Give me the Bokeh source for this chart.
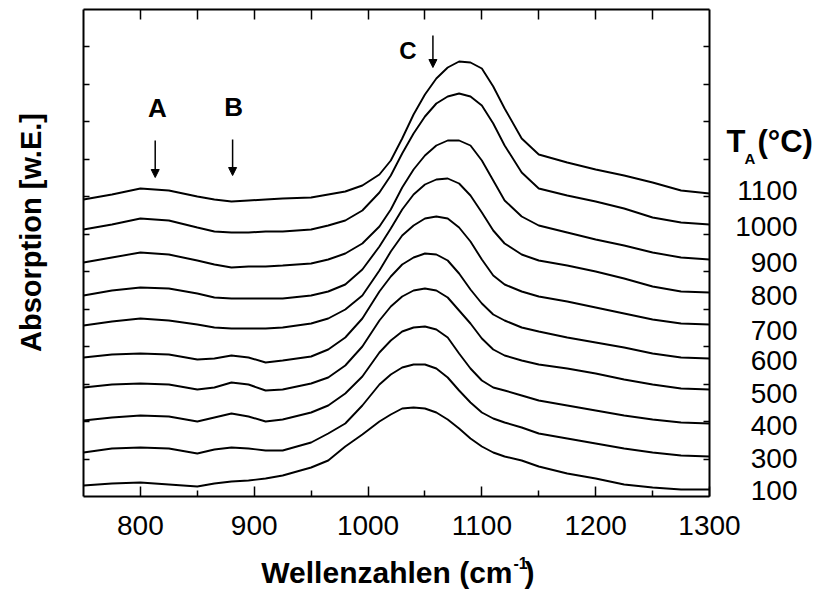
from bokeh.plotting import figure
from bokeh.models import Range1d, LinearAxis, FixedTicker, Arrow, NormalHead
from bokeh.core.properties import value
from bokeh.embed import file_html
from bokeh.resources import INLINE
import math

# Wavenumber grid (cm^-1) shared by all spectra
wavenumber = [750, 775, 800, 825, 850, 865, 880, 895, 910, 925, 950, 965, 980, 995,
              1010, 1020, 1030, 1040, 1050, 1060, 1070, 1080, 1090, 1100, 1110, 1120,
              1135, 1150, 1175, 1200, 1225, 1250, 1275, 1300]

# Absorption (arbitrary units, stacked with vertical offsets) per annealing temperature
abs_1100 = [297, 302, 308, 306, 300, 297, 295, 296, 297, 298, 299, 302, 305, 311, 322, 336, 358,
            382, 402, 418, 429, 435, 434, 428, 410, 388, 358, 342, 334, 327, 321, 314, 306, 303]
abs_1000 = [267, 272, 278, 276, 269, 265, 264, 264, 265, 265, 267, 271, 276, 286, 304, 321, 343,
            363, 380, 393, 400, 403, 400, 391, 373, 351, 324, 308, 301, 295, 288, 279, 274, 272]
abs_900 = [234, 239, 244, 242, 236, 232, 229, 230, 230, 231, 233, 237, 243, 253, 270, 287, 309,
           327, 341, 351, 356, 356, 351, 336, 316, 296, 280, 271, 264, 257, 251, 244, 239, 237]
abs_800 = [201, 206, 209, 208, 203, 199, 198, 198, 198, 198, 201, 205, 212, 227, 250, 268, 287,
           302, 312, 317, 318, 313, 301, 284, 266, 253, 242, 236, 231, 225, 218, 210, 205, 204]
abs_700 = [171, 175, 178, 176, 172, 169, 168, 168, 168, 169, 173, 178, 187, 201, 226, 245, 261,
           271, 278, 280, 278, 269, 255, 237, 221, 212, 205, 200, 195, 189, 183, 177, 173, 172]
abs_600 = [139, 142, 143, 142, 137, 138, 141, 139, 134, 136, 140, 147, 159, 178, 205, 220, 232,
           239, 243, 242, 236, 223, 207, 193, 182, 176, 169, 165, 159, 154, 149, 143, 139, 138]
abs_500 = [109, 112, 113, 112, 107, 109, 114, 112, 106, 107, 113, 119, 131, 150, 176, 190, 200,
           206, 208, 206, 199, 186, 173, 158, 147, 141, 136, 132, 128, 123, 117, 112, 108, 107]
abs_400 = [76, 79, 81, 80, 75, 79, 83, 80, 75, 77, 84, 91, 103, 120, 144, 156, 165,
           169, 170, 167, 159, 143, 128, 116, 109, 106, 101, 96, 91, 86, 81, 77, 74, 73]
abs_300 = [44, 48, 49, 48, 43, 47, 49, 48, 46, 46, 54, 63, 73, 91, 112, 122, 129,
           132, 132, 128, 119, 106, 94, 84, 78, 74, 69, 63, 58, 53, 48, 44, 41, 40]
abs_100 = [11, 13, 14, 12, 10, 13, 15, 16, 18, 21, 29, 36, 50, 62, 75, 82, 88,
           89, 88, 84, 77, 68, 58, 50, 44, 40, 36, 30, 23, 18, 12, 9, 7, 7]

temperatures = ["1100", "1000", "900", "800", "700", "600", "500", "400", "300", "100"]
spectra = [abs_1100, abs_1000, abs_900, abs_800, abs_700, abs_600, abs_500, abs_400, abs_300, abs_100]

x_ticks = [800, 900, 1000, 1100, 1200, 1300]
x_minor = [850, 950, 1050, 1150, 1250]

FONT = "Liberation Sans"
Y_TOP = 487
W, H = 819, 590

# ---- spectra panel --------------------------------------------------------
p = figure(frame_width=626, frame_height=487, output_backend="svg", toolbar_location=None,
           x_range=Range1d(750, 1300), y_range=Range1d(0, Y_TOP),
           min_border_left=83, min_border_right=110, min_border_top=9, min_border_bottom=94,
           background_fill_color="white", border_fill_color="white",
           styles={"position": "absolute", "left": "0px", "top": "0px"})
p.title.visible = False
p.outline_line_color = None
p.xgrid.grid_line_color = None
p.ygrid.grid_line_color = None

for ys in spectra:
    p.line(wavenumber, ys, line_color="black", line_width=1.9)

y_tick_vals = [k * Y_TOP / 13 for k in range(1, 13)]

xa = p.xaxis[0]
xa.ticker = FixedTicker(ticks=x_ticks, minor_ticks=x_minor)
xa.major_tick_in = 10
xa.major_tick_out = 0
xa.minor_tick_in = 6
xa.minor_tick_out = 0
xa.axis_line_width = 2
xa.major_tick_line_width = 1.5
xa.minor_tick_line_width = 1.5
xa.major_label_text_font = FONT
xa.major_label_text_font_size = "28px"
xa.major_label_text_color = "black"
xa.major_label_standoff = 19


def plain_axis(axis, ticks, tick_len):
    axis.ticker = FixedTicker(ticks=ticks)
    axis.major_tick_in = tick_len
    axis.major_tick_out = 0
    axis.minor_tick_line_color = None
    axis.axis_line_width = 2
    axis.major_tick_line_width = 1.5
    axis.major_label_standoff = 0
    axis.major_label_overrides = {v: "" for v in ticks}
    axis.major_label_text_font_size = "1px"


plain_axis(p.yaxis[0], y_tick_vals, 6)
top = LinearAxis()
plain_axis(top, [800 + 50 * k for k in range(10)], 10)
p.add_layout(top, "above")
right = LinearAxis()
plain_axis(right, y_tick_vals, 6)
p.add_layout(right, "right")

# band markers A, B, C
p.text(x=[815, 882], y=[389, 390], text=["A", "B"],
       text_font=value(FONT), text_font_size=value("26px"), text_font_style="bold",
       text_color="black", text_align="center", text_baseline="middle")
p.text(x=[1035], y=[446], text=["C"],
       text_font=value(FONT), text_font_size=value("24px"), text_font_style="bold",
       text_color="black", text_align="center", text_baseline="middle")
for xm, y0, y1 in [(813, 356, 319), (881, 357, 321), (1057, 461, 429)]:
    p.add_layout(Arrow(end=NormalHead(size=8, fill_color="black", line_color="black", line_width=1),
                       x_start=xm, y_start=y0, x_end=xm, y_end=y1,
                       line_color="black", line_width=1.5))

# ---- transparent text layer over the whole page (coordinates in page pixels) ----
t = figure(width=W, height=H, output_backend="svg", toolbar_location=None,
           x_range=Range1d(0, W), y_range=Range1d(H, 0),
           x_axis_type=None, y_axis_type=None, min_border=0,
           background_fill_alpha=0, border_fill_alpha=0,
           styles={"position": "absolute", "left": "0px", "top": "0px"})
t.title.visible = False
t.outline_line_color = None
t.xgrid.grid_line_color = None
t.ygrid.grid_line_color = None


def put(x, y, text, size, bold=False, align="left", angle=0.0):
    t.text(x=x, y=y, text=text, angle=angle,
           text_font=value(FONT), text_font_size=value(size),
           text_font_style="bold" if bold else "normal", text_color="black",
           text_align=align, text_baseline="middle")


# temperature labels at the curve ends
label_center_px = [190, 226, 262, 295, 330, 360, 393, 425, 458, 490]
put([797] * len(temperatures), label_center_px, temperatures, "28px", align="right")
put([726, 757], [141, 141], ["T", "(°C)"], "31px", bold=True)
put([744], [158], ["A"], "15px", bold=True)

# x-axis title with superscript
put([512], [572], ["Wellenzahlen (cm"], "30px", bold=True, align="right")
put([513], [562], ["-1"], "16px", bold=True)
put([524], [572], [")"], "30px", bold=True)

# y-axis title
put([30], [232], ["Absorption [w.E.]"], "29px", bold=True, align="center", angle=math.pi / 2)

open("out.html", "w").write(file_html([p, t], INLINE))
